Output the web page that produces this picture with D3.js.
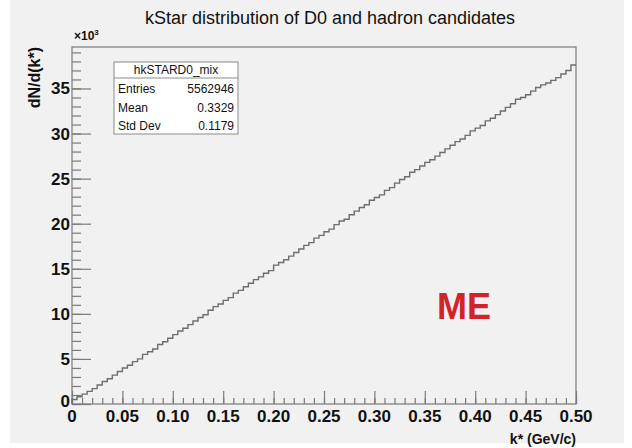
<!DOCTYPE html>
<html>
<head>
<meta charset="utf-8">
<script src="https://cdn.jsdelivr.net/npm/d3@7"></script>
<style>
  html, body { margin: 0; padding: 0; background: #ffffff; }
  svg { display: block; }
  text { font-family: "Liberation Sans Narrow", "Liberation Sans", Arial, sans-serif; }
</style>
</head>
<body>
<svg id="chart" width="632" height="448"></svg>
<script>
// Histogram hkSTARD0_mix: 100 bins of k* over [0, 0.5] GeV/c, contents in units of 10^3
const binEdges = [0, 0.5];
const binCounts = [
  0.5, 0.8, 1.1, 1.4, 1.7, 2.1, 2.5, 2.8, 3.2, 3.6,
  4.0, 4.3, 4.7, 5.0, 5.5, 5.8, 6.1, 6.6, 6.9, 7.3,
  7.7, 8.1, 8.4, 8.8, 9.2, 9.6, 9.9, 10.4, 10.8, 11.1,
  11.5, 11.8, 12.3, 12.6, 13.0, 13.4, 13.8, 14.1, 14.5, 14.8,
  15.4, 15.7, 16.0, 16.4, 16.8, 17.2, 17.6, 17.9, 18.4, 18.7,
  19.1, 19.4, 19.9, 20.3, 20.5, 21.0, 21.4, 21.8, 22.1, 22.6,
  22.9, 23.2, 23.7, 24.0, 24.5, 24.9, 25.2, 25.7, 26.0, 26.4,
  26.8, 27.1, 27.5, 27.9, 28.3, 28.7, 29.1, 29.4, 29.8, 30.3,
  30.6, 30.9, 31.4, 31.7, 32.1, 32.5, 32.9, 33.3, 33.8, 34.0,
  34.3, 34.7, 35.1, 35.4, 35.6, 35.9, 36.2, 36.6, 37.0, 37.6
];
const xTickValues = [0, 0.05, 0.10, 0.15, 0.20, 0.25, 0.30, 0.35, 0.40, 0.45, 0.50];
const xTickLabels = ["0", "0.05", "0.10", "0.15", "0.20", "0.25", "0.30", "0.35", "0.40", "0.45", "0.50"];
const yTickValues = [0, 5, 10, 15, 20, 25, 30, 35];
const yMax = 39.6;
const statsTitle = "hkSTARD0_mix";
const statsNames = ["Entries", "Mean", "Std Dev"];
const statsValues = ["5562946", "0.3329", "0.1179"];
const titleText = "kStar distribution of D0 and hadron candidates";
const xTitle = "k* (GeV/c)";
const yTitle = "dN/d(k*)";
const tagText = "ME";

const svg = d3.select("#chart");
const frame = { left: 72, right: 576, top: 47, bottom: 404 };
const axisGray = "#7a7a7a";

// canvas background
svg.append("rect").attr("x", 10).attr("y", 0).attr("width", 614).attr("height", 443)
  .attr("fill", "#f1f1f1");

const x = d3.scaleLinear().domain(binEdges).range([frame.left, frame.right]);
const y = d3.scaleLinear().domain([0, yMax]).range([frame.bottom, frame.top]);

// frame
svg.append("rect")
  .attr("x", frame.left).attr("y", frame.top)
  .attr("width", frame.right - frame.left).attr("height", frame.bottom - frame.top)
  .attr("fill", "none").attr("stroke", axisGray).attr("stroke-width", 1.2);

// x axis: major ticks every 0.05, minor every 0.01
const xMinor = d3.range(0, 51).map(i => i * 0.01);
svg.append("g")
  .attr("transform", `translate(0,${frame.bottom})`)
  .call(d3.axisTop(x).tickValues(xMinor).tickSize(6).tickFormat(""))
  .call(g => g.select(".domain").remove())
  .call(g => g.selectAll("line").attr("stroke", axisGray).attr("stroke-width", 1.2));
svg.append("g")
  .attr("transform", `translate(0,${frame.bottom})`)
  .call(d3.axisTop(x).tickValues(xTickValues).tickSize(13).tickFormat(""))
  .call(g => g.select(".domain").remove())
  .call(g => g.selectAll("line").attr("stroke", axisGray).attr("stroke-width", 1.2));
svg.append("g").selectAll("text").data(xTickValues).join("text")
  .attr("x", d => x(d)).attr("y", frame.bottom + 18)
  .attr("text-anchor", "middle")
  .attr("font-size", 17).attr("font-weight", "bold").attr("fill", "#111")
  .text((d, i) => xTickLabels[i]);

// y axis: major ticks every 5, minor every 1
const yMinor = d3.range(0, 40).filter(v => v <= yMax);
svg.append("g")
  .attr("transform", `translate(${frame.left},0)`)
  .call(d3.axisRight(y).tickValues(yMinor).tickSize(9).tickFormat(""))
  .call(g => g.select(".domain").remove())
  .call(g => g.selectAll("line").attr("stroke", axisGray).attr("stroke-width", 1.2));
svg.append("g")
  .attr("transform", `translate(${frame.left},0)`)
  .call(d3.axisRight(y).tickValues(yTickValues).tickSize(19).tickFormat(""))
  .call(g => g.select(".domain").remove())
  .call(g => g.selectAll("line").attr("stroke", axisGray).attr("stroke-width", 1.2));
svg.append("g").selectAll("text").data(yTickValues).join("text")
  .attr("x", frame.left - 2).attr("y", d => y(d) + (d === 0 ? 3 : 6))
  .attr("text-anchor", "end")
  .attr("font-size", 17).attr("font-weight", "bold").attr("fill", "#111")
  .text(d => d);

// exponent label
const expo = svg.append("text").attr("x", frame.left + 2).attr("y", 40)
  .attr("font-size", 12).attr("font-weight", "bold").attr("fill", "#111");
expo.append("tspan").text("\u00d710");
expo.append("tspan").attr("dy", -5).attr("font-size", 8).text("3");

// histogram outline (steps)
const binW = (binEdges[1] - binEdges[0]) / binCounts.length;
const pts = [[binEdges[0], 0]];
binCounts.forEach((c, i) => {
  pts.push([binEdges[0] + i * binW, c]);
  pts.push([binEdges[0] + (i + 1) * binW, c]);
});
svg.append("path")
  .datum(pts)
  .attr("d", d3.line().x(d => x(d[0])).y(d => y(d[1])))
  .attr("fill", "none").attr("stroke", "#6e6e6e").attr("stroke-width", 1.4);

// titles
svg.append("text").attr("x", 330).attr("y", 24)
  .attr("text-anchor", "middle").attr("font-size", 18).attr("fill", "#111")
  .text(titleText);
svg.append("text").attr("x", frame.right).attr("y", 444)
  .attr("text-anchor", "end").attr("font-size", 14).attr("font-weight", "bold").attr("fill", "#111")
  .text(xTitle);
svg.append("text")
  .attr("transform", `translate(40,${frame.top}) rotate(-90)`)
  .attr("text-anchor", "end").attr("font-size", 16).attr("font-weight", "bold").attr("fill", "#111")
  .text(yTitle);

// statistics box
const sb = { x: 114, y: 62, w: 124, h: 72, head: 16 };
const stats = svg.append("g");
stats.append("rect").attr("x", sb.x).attr("y", sb.y).attr("width", sb.w).attr("height", sb.h)
  .attr("fill", "#ffffff").attr("stroke", "#8a8a8a").attr("stroke-width", 1);
stats.append("line").attr("x1", sb.x).attr("x2", sb.x + sb.w)
  .attr("y1", sb.y + sb.head).attr("y2", sb.y + sb.head)
  .attr("stroke", "#8a8a8a").attr("stroke-width", 1);
stats.append("text").attr("x", sb.x + sb.w / 2).attr("y", sb.y + 12)
  .attr("text-anchor", "middle").attr("font-size", 12).attr("fill", "#111").text(statsTitle);
statsNames.forEach((n, i) => {
  const yy = sb.y + 31 + i * 18.5;
  stats.append("text").attr("x", sb.x + 4).attr("y", yy)
    .attr("font-size", 12).attr("fill", "#111").text(n);
  stats.append("text").attr("x", sb.x + sb.w - 4).attr("y", yy)
    .attr("text-anchor", "end").attr("font-size", 12).attr("fill", "#111").text(statsValues[i]);
});

// sample tag
svg.append("text").attr("x", 437).attr("y", 319)
  .attr("font-family", "'Liberation Sans', Arial, sans-serif")
  .attr("font-size", 36).attr("font-weight", "bold").attr("fill", "#d02428")
  .text(tagText);
</script>
</body>
</html>
